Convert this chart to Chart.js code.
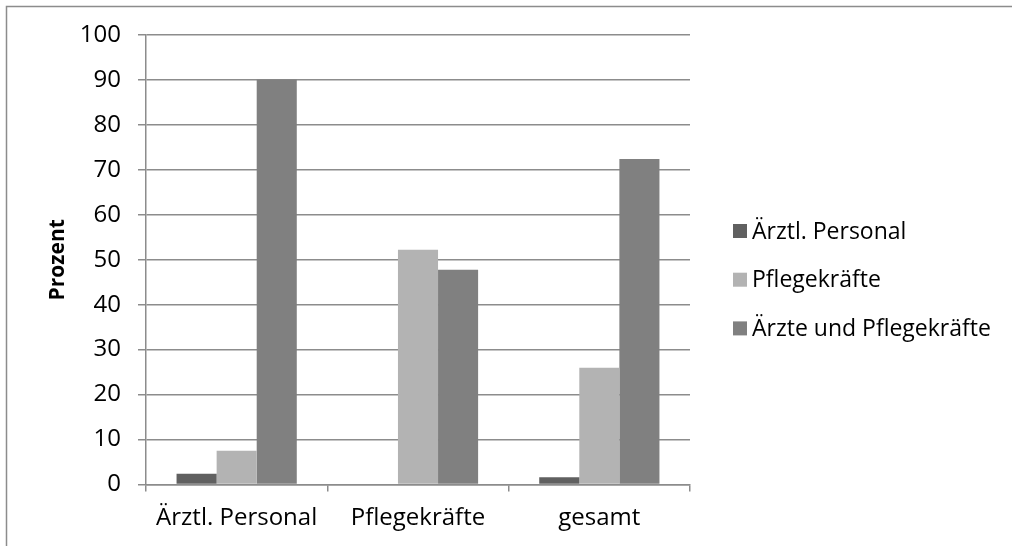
<!DOCTYPE html>
<html>
<head>
<meta charset="utf-8">
<script src="https://cdn.jsdelivr.net/npm/chart.js@4"></script>
<style>
  html, body { margin: 0; padding: 0; background: #ffffff; }
  #wrap { width: 1012px; height: 546px; position: relative; }
</style>
</head>
<body>
<div id="wrap"><canvas id="chart" width="1012" height="546"></canvas></div>
<script>
// Staff groups on the x axis
const categories = ['Ärztl. Personal', 'Pflegekräfte', 'gesamt'];

// Share of answers per group (percent)
const seriesNames = ['Ärztl. Personal', 'Pflegekräfte', 'Ärzte und Pflegekräfte'];
const aerztlPersonal = [2.4, 0, 1.6];
const pflegekraefte = [7.5, 52.2, 26.0];
const aerzteUndPflege = [90.1, 47.8, 72.4];
const seriesColors = ['#606060', '#b3b3b3', '#808080'];

const yTicks = [0, 10, 20, 30, 40, 50, 60, 70, 80, 90, 100];

const FONT = '"Open Sans", Lato, sans-serif';
const GRID = '#8c8c8c';

// Outer frame and legend drawn on the canvas
const framePlugin = {
  id: 'frameAndLegend',
  afterDraw(chart) {
    const ctx = chart.ctx;
    ctx.save();
    ctx.strokeStyle = '#8c8c8c';
    ctx.lineWidth = 1.5;
    ctx.beginPath();
    ctx.moveTo(6.5, 546);
    ctx.lineTo(6.5, 6.5);
    ctx.lineTo(1012, 6.5);
    ctx.stroke();

    ctx.font = '23px ' + FONT;
    ctx.textBaseline = 'middle';
    ctx.textAlign = 'left';
    chart.data.datasets.forEach((ds, i) => {
      const cy = 231 + i * 48.7;
      ctx.fillStyle = ds.backgroundColor;
      ctx.fillRect(733, cy - 7, 14, 14);
      ctx.fillStyle = '#000000';
      ctx.fillText(ds.label, 752, cy + 1);
    });
    ctx.restore();
  }
};

new Chart(document.getElementById('chart'), {
  type: 'bar',
  data: {
    labels: categories,
    datasets: [
      { label: seriesNames[0], data: aerztlPersonal, backgroundColor: seriesColors[0] },
      { label: seriesNames[1], data: pflegekraefte, backgroundColor: seriesColors[1] },
      { label: seriesNames[2], data: aerzteUndPflege, backgroundColor: seriesColors[2] }
    ]
  },
  options: {
    responsive: false,
    animation: false,
    devicePixelRatio: 1,
    layout: { padding: { left: 0, right: 322, top: 35, bottom: 0 } },
    datasets: { bar: { categoryPercentage: 0.663, barPercentage: 1.0 } },
    plugins: {
      legend: { display: false },
      tooltip: { enabled: false }
    },
    scales: {
      x: {
        grid: { offset: true, drawOnChartArea: false, drawTicks: true, tickLength: 7, color: GRID, lineWidth: 1.5 },
        border: { color: GRID, width: 1.5 },
        ticks: { color: '#000000', font: { family: FONT, size: 24 }, padding: 12, maxRotation: 0 },
        afterFit(scale) { scale.height = 61.5; }
      },
      y: {
        min: 0,
        max: 100,
        afterBuildTicks(scale) { scale.ticks = yTicks.map(v => ({ value: v })); },
        grid: { color: GRID, lineWidth: 1.5, drawTicks: true, tickLength: 8 },
        border: { color: GRID, width: 1.5 },
        ticks: { color: '#000000', font: { family: FONT, size: 24 }, padding: 17 },
        title: {
          display: true,
          text: 'Prozent',
          color: '#000000',
          font: { family: FONT, size: 21, weight: 'bold' },
          padding: { top: 45, bottom: 0 }
        },
        afterFit(scale) { scale.width = 146; }
      }
    }
  },
  plugins: [framePlugin]
});
</script>
</body>
</html>
